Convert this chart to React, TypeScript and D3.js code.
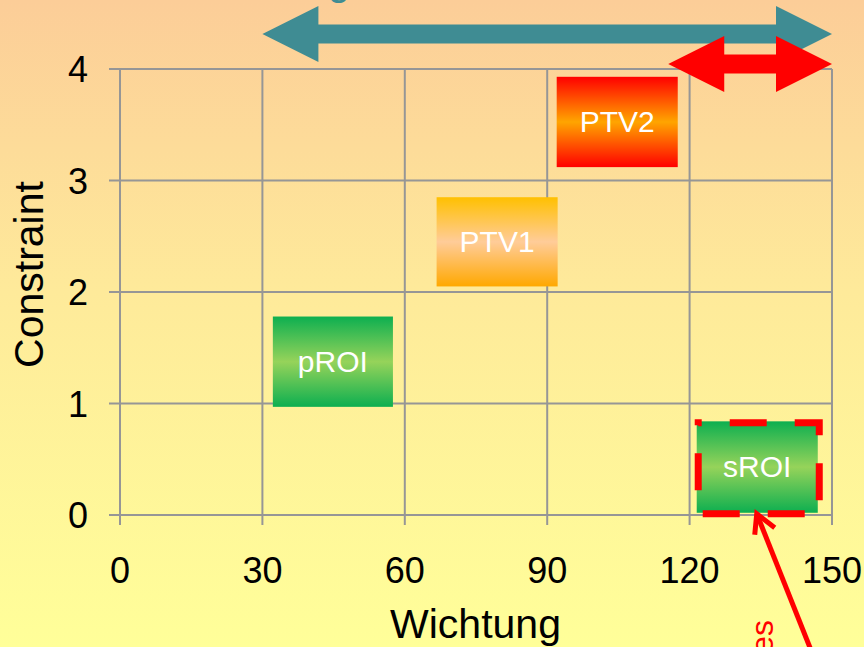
import React from "react";
import * as d3 from "d3";

const W = 864;
const H = 647;

// axis ticks
const xTicks = [0, 30, 60, 90, 120, 150];
const yTicks = [0, 1, 2, 3, 4];

// boxes (category, wichtung range, constraint range)
const names = ["pROI", "PTV1", "PTV2", "sROI"];
const xStart = [32.2, 66.7, 92.0, 121.5];
const xEnd = [57.5, 92.2, 117.5, 147.0];
const yLow = [0.97, 2.05, 3.12, 0.02];
const yHigh = [1.78, 2.85, 3.93, 0.84];
const fills = ["gGreen", "gPTV1", "gPTV2", "gGreen"];

// annotation arrows (data coords)
const arrowFrom = [30, 115.5];
const arrowTo = [150, 150];
const arrowLevel = [4.314, 4.045];
const arrowColors = ["#3F8C93", "#FF0000"];

const FONT = "'Liberation Sans', Arial, sans-serif";

export default function App() {
  const x = d3.scaleLinear().domain([0, 150]).range([120, 832]);
  const y = d3.scaleLinear().domain([0, 4]).range([515, 69]);
  const grid = "#969696";

  const doubleArrow = (x0: number, x1: number, yc: number) => {
    const head = 56;
    const hh = 28;
    const sh = 9.5;
    const pts = [
      [x0, yc],
      [x0 + head, yc - hh],
      [x0 + head, yc - sh],
      [x1 - head, yc - sh],
      [x1 - head, yc - hh],
      [x1, yc],
      [x1 - head, yc + hh],
      [x1 - head, yc + sh],
      [x0 + head, yc + sh],
      [x0 + head, yc + hh],
    ];
    return "M" + pts.map((p) => p.join(",")).join("L") + "Z";
  };

  const s = 3; // sROI index
  const sx0 = x(xStart[s]);
  const sx1 = x(xEnd[s]);
  const sy0 = y(yHigh[s]);
  const sy1 = y(yLow[s]);

  const tipX = (sx0 + sx1) / 2 - 0.5;
  const tipY = sy1 + 1;

  return (
    <div style={{ position: "fixed", left: 0, top: 0, width: W, height: H }}>
      <svg width={W} height={H} style={{ display: "block" }}>
        <defs>
          <linearGradient id="bg" x1="0" y1="0" x2="0" y2="1">
            <stop offset="0%" stopColor="#FCCD98" />
            <stop offset="45%" stopColor="#FEEA9A" />
            <stop offset="100%" stopColor="#FFFF99" />
          </linearGradient>
          <linearGradient id="gGreen" x1="0" y1="0" x2="0" y2="1">
            <stop offset="0%" stopColor="#0DAF50" />
            <stop offset="50%" stopColor="#96D35A" />
            <stop offset="100%" stopColor="#0DAF50" />
          </linearGradient>
          <linearGradient id="gPTV1" x1="0" y1="0" x2="0" y2="1">
            <stop offset="0%" stopColor="#FFC000" />
            <stop offset="50%" stopColor="#FFCC99" />
            <stop offset="100%" stopColor="#FFA800" />
          </linearGradient>
          <linearGradient id="gPTV2" x1="0" y1="0" x2="0" y2="1">
            <stop offset="0%" stopColor="#FF0000" />
            <stop offset="50%" stopColor="#FFA500" />
            <stop offset="100%" stopColor="#FF0000" />
          </linearGradient>
        </defs>
        <rect x={0} y={0} width={W} height={H} fill="url(#bg)" />

        {/* cropped title descender */}
        <text x={350} y={-5} textAnchor="end" fontFamily={FONT} fontSize={40} fill="#3F8C93">
          Wichtung
        </text>

        {/* grid */}
        {yTicks.map((t) => (
          <line key={"h" + t} x1={109} x2={x(150)} y1={y(t)} y2={y(t)} stroke={grid} strokeWidth={2} />
        ))}
        {xTicks.map((t) => (
          <line key={"v" + t} x1={x(t)} x2={x(t)} y1={y(4)} y2={y(0) + 10} stroke={grid} strokeWidth={2} />
        ))}

        {/* tick labels */}
        {xTicks.map((t) => (
          <text key={"xl" + t} x={x(t)} y={583} textAnchor="middle" fontFamily={FONT} fontSize={36} fill="#000">
            {t}
          </text>
        ))}
        {yTicks.map((t) => (
          <text key={"yl" + t} x={88} y={y(t) + 13} textAnchor="end" fontFamily={FONT} fontSize={36} fill="#000">
            {t}
          </text>
        ))}

        {/* axis titles */}
        <text x={475.5} y={638} textAnchor="middle" fontFamily={FONT} fontSize={41} fill="#000">
          Wichtung
        </text>
        <text
          transform={`translate(43,274.5) rotate(-90)`}
          textAnchor="middle"
          fontFamily={FONT}
          fontSize={41}
          fill="#000"
        >
          Constraint
        </text>

        {/* boxes */}
        {names.map((n, i) => {
          const bx = x(xStart[i]);
          const bw = x(xEnd[i]) - bx;
          const by = y(yHigh[i]);
          const bh = y(yLow[i]) - by;
          return (
            <g key={n}>
              <rect x={bx} y={by} width={bw} height={bh} fill={`url(#${fills[i]})`} />
              <text
                x={bx + bw / 2}
                y={by + bh / 2 + 10}
                textAnchor="middle"
                fontFamily={FONT}
                fontSize={30}
                fill="#FFFFFF"
              >
                {n}
              </text>
            </g>
          );
        })}

        {/* dashed highlight around sROI */}
        <rect
          x={sx0 + 1.5}
          y={sy0 + 1.5}
          width={sx1 - sx0}
          height={sy1 - sy0 - 0.5}
          fill="none"
          stroke="#FF0000"
          strokeWidth={7}
          strokeDasharray="37 28"
          strokeDashoffset={33.5}
        />

        {/* double arrows */}
        {arrowFrom.map((a, i) => (
          <path key={"ar" + i} d={doubleArrow(x(a), x(arrowTo[i]), y(arrowLevel[i]))} fill={arrowColors[i]} />
        ))}

        {/* red pointer arrow */}
        <line x1={tipX} y1={tipY} x2={tipX + 74} y2={tipY + 186} stroke="#FF0000" strokeWidth={5} />
        <polyline
          points={`${tipX - 2},${tipY + 21} ${tipX},${tipY} ${tipX + 18},${tipY + 14}`}
          fill="none"
          stroke="#FF0000"
          strokeWidth={5}
        />
        <text
          transform={`translate(773,620) rotate(-90)`}
          textAnchor="end"
          fontFamily={FONT}
          fontSize={32}
          fill="#FF0000"
        >
          es
        </text>
      </svg>
    </div>
  );
}
